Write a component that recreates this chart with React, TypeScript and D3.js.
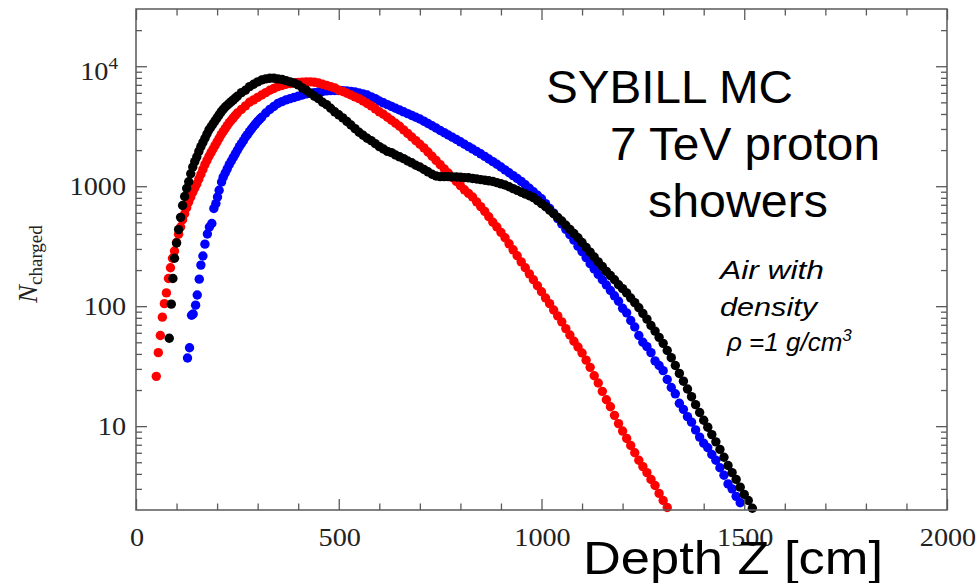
import React, { useEffect, useRef } from 'react';
import * as d3 from 'd3';

// depth Z [cm], N charged
const seriesBlue: [number, number][] = [
  [127, 37], [132, 45], [137, 84], [141, 86], [147, 102], [151, 124], [156, 168], [160, 220], [165, 262], [170, 329],
  [176, 400], [181, 457], [187, 489], [192, 652], [197, 716], [201, 813], [205, 925], [211, 1084], [215, 1189], [220, 1288],
  [225, 1396], [230, 1514], [235, 1622], [240, 1738], [245, 1862], [250, 1995], [255, 2138], [260, 2265], [265, 2399], [270, 2570],
  [275, 2692], [280, 2851], [285, 3006], [290, 3162], [295, 3311], [300, 3467], [305, 3614], [310, 3758], [320, 4074], [330, 4365],
  [340, 4624], [350, 4898], [360, 5070], [370, 5248], [380, 5370], [390, 5495], [400, 5623], [410, 5754], [420, 5888], [430, 5957],
  [440, 6026], [450, 6095], [460, 6166], [470, 6237], [480, 6266], [490, 6281], [500, 6281], [510, 6266], [520, 6237], [530, 6166],
  [540, 6095], [550, 5984], [560, 5888], [570, 5754], [580, 5559], [590, 5370], [600, 5129], [610, 4955], [620, 4786], [630, 4624],
  [640, 4467], [650, 4315], [660, 4169], [670, 4027], [680, 3890], [690, 3758], [700, 3631], [710, 3483], [720, 3334], [730, 3192],
  [740, 3055], [750, 2917], [760, 2793], [770, 2673], [780, 2559], [790, 2449], [800, 2344], [810, 2239], [820, 2138], [830, 2042],
  [840, 1950], [850, 1862], [860, 1774], [870, 1687], [880, 1603], [890, 1524], [900, 1445], [910, 1368], [920, 1294], [930, 1225],
  [940, 1159], [950, 1096], [960, 1028], [970, 962], [980, 899], [990, 841], [1000, 785], [1010, 716], [1020, 653], [1030, 596],
  [1040, 537], [1050, 484], [1060, 437], [1070, 394], [1080, 355], [1090, 316], [1100, 285], [1110, 254], [1120, 226], [1130, 204],
  [1140, 184], [1150, 166], [1160, 150], [1170, 135], [1180, 122], [1190, 110], [1200, 96], [1210, 88], [1220, 76], [1230, 67],
  [1240, 57], [1250, 50], [1260, 46], [1270, 41], [1280, 35], [1290, 32], [1300, 29], [1310, 24.5], [1320, 21], [1330, 18.6],
  [1340, 15.5], [1350, 13.8], [1360, 12], [1370, 10.8], [1380, 9.3], [1390, 8.1], [1400, 7.2], [1410, 6.6], [1420, 5.8], [1430, 5.2],
  [1440, 4.5], [1450, 3.9], [1460, 3.3], [1470, 3.0], [1480, 2.6], [1490, 2.3],
];

const seriesRed: [number, number][] = [
  [50, 26], [55, 41], [60, 57], [65, 81], [70, 105], [75, 129], [80, 170], [85, 209], [90, 251], [95, 288],
  [100, 339], [105, 398], [110, 457], [115, 525], [120, 589], [125, 661], [130, 741], [135, 813], [140, 891], [145, 966],
  [150, 1047], [155, 1148], [160, 1259], [165, 1380], [170, 1514], [175, 1641], [180, 1778], [185, 1905], [190, 2042], [195, 2188],
  [200, 2344], [205, 2512], [210, 2692], [215, 2851], [220, 3020], [225, 3199], [230, 3388], [235, 3548], [240, 3715], [245, 3890],
  [250, 4074], [260, 4365], [270, 4677], [280, 5012], [290, 5248], [300, 5495], [310, 5754], [320, 6026], [330, 6310], [340, 6531],
  [350, 6761], [360, 6918], [370, 7079], [380, 7161], [390, 7244], [400, 7328], [410, 7379], [420, 7413], [430, 7413], [440, 7362],
  [450, 7244], [460, 7079], [470, 6918], [480, 6761], [490, 6607], [500, 6310], [510, 6166], [520, 5957], [530, 5754], [540, 5559],
  [550, 5370], [560, 5129], [570, 4898], [580, 4677], [590, 4416], [600, 4169], [610, 3981], [620, 3758], [630, 3548], [640, 3350],
  [650, 3162], [660, 2951], [670, 2754], [680, 2570], [690, 2399], [700, 2239], [710, 2089], [720, 1928], [730, 1778], [740, 1641],
  [750, 1514], [760, 1396], [770, 1288], [780, 1183], [790, 1096], [800, 1012], [810, 933], [820, 871], [830, 813], [840, 741],
  [850, 676], [860, 617], [870, 556], [880, 501], [890, 457], [900, 412], [910, 372], [920, 331], [930, 295], [940, 263],
  [950, 234], [960, 209], [970, 186], [980, 166], [990, 148], [1000, 132], [1010, 117], [1020, 105], [1030, 93], [1040, 83],
  [1050, 74], [1060, 65], [1070, 57.5], [1080, 51], [1090, 45.7], [1100, 40.7], [1110, 35.5], [1120, 30.9], [1130, 26.3], [1140, 22.9],
  [1150, 19.5], [1160, 16.6], [1170, 14.5], [1180, 12.3], [1190, 10.5], [1200, 9.1], [1210, 7.9], [1220, 6.9], [1230, 6.0], [1240, 5.2],
  [1250, 4.6], [1260, 4.1], [1270, 3.6], [1280, 3.2], [1290, 2.75], [1300, 2.4], [1310, 2.1],
];

const seriesBlack: [number, number][] = [
  [82, 54], [87, 104], [91, 170], [95, 251], [100, 336], [105, 435], [110, 550], [115, 690], [120, 820], [125, 960],
  [130, 1090], [135, 1270], [140, 1445], [145, 1603], [150, 1758], [155, 1950], [160, 2138], [165, 2317], [170, 2512], [175, 2723],
  [180, 2951], [185, 3126], [190, 3311], [195, 3508], [200, 3715], [205, 3936], [210, 4169], [215, 4365], [220, 4571], [225, 4732],
  [230, 4898], [235, 5070], [240, 5248], [245, 5433], [250, 5623], [260, 6026], [270, 6310], [280, 6761], [290, 7079], [300, 7413],
  [310, 7674], [320, 7852], [330, 7943], [340, 7943], [350, 7852], [360, 7762], [370, 7586], [380, 7413], [390, 7244], [400, 6998],
  [410, 6607], [420, 6310], [430, 5957], [440, 5623], [450, 5370], [460, 5012], [470, 4786], [480, 4467], [490, 4169], [500, 3936],
  [510, 3715], [520, 3467], [530, 3236], [540, 3020], [550, 2818], [560, 2661], [570, 2512], [580, 2399], [590, 2265], [600, 2138],
  [610, 2042], [620, 1950], [630, 1905], [640, 1820], [650, 1758], [660, 1698], [670, 1622], [680, 1567], [690, 1496], [700, 1445],
  [710, 1380], [720, 1318], [730, 1259], [740, 1216], [750, 1202], [760, 1202], [770, 1202], [780, 1197], [790, 1194], [800, 1189],
  [810, 1180], [820, 1175], [830, 1161], [840, 1148], [850, 1135], [860, 1122], [870, 1109], [880, 1096], [890, 1072], [900, 1047],
  [910, 1023], [920, 989], [930, 955], [940, 923], [950, 891], [960, 861], [970, 832], [980, 804], [990, 759], [1000, 716],
  [1010, 676], [1020, 631], [1030, 589], [1040, 550], [1050, 513], [1060, 473], [1070, 437], [1080, 403], [1090, 372], [1100, 339],
  [1110, 309], [1120, 282], [1130, 257], [1140, 234], [1150, 214], [1160, 195], [1170, 180], [1180, 166], [1190, 151], [1200, 140],
  [1210, 129], [1220, 117], [1230, 107], [1240, 97], [1250, 87], [1260, 78], [1270, 69], [1280, 62], [1290, 55], [1300, 49],
  [1310, 42.7], [1320, 37.2], [1330, 32], [1340, 27.5], [1350, 23.7], [1360, 20.4], [1370, 17.6], [1380, 15.1], [1390, 13], [1400, 11.2],
  [1410, 9.8], [1420, 8.5], [1430, 7.4], [1440, 6.4], [1450, 5.5], [1460, 4.7], [1470, 4.1], [1480, 3.6], [1490, 3.1], [1500, 2.7],
  [1510, 2.4], [1520, 2.07],
];

const xTicks = [0, 500, 1000, 1500, 2000];
const xMinorTicks = [100, 200, 300, 400, 600, 700, 800, 900, 1100, 1200, 1300, 1400, 1600, 1700, 1800, 1900];
const yTicks = [10, 100, 1000, 10000];
const yMinorTicks = [3, 4, 5, 6, 7, 8, 9, 20, 30, 40, 50, 60, 70, 80, 90, 200, 300, 400, 500, 600, 700, 800, 900,
  2000, 3000, 4000, 5000, 6000, 7000, 8000, 9000, 20000];

const series = [
  { name: 'blue', color: '#0000ff', data: seriesBlue },
  { name: 'red', color: '#ff0000', data: seriesRed },
  { name: 'black', color: '#000000', data: seriesBlack },
];

const FRAME = '#5a5a5a';
const SERIF = '"Liberation Serif", "Times New Roman", serif';
const SANS = '"Liberation Sans", Arial, sans-serif';

export default function App() {
  const axesRef = useRef<SVGGElement>(null);
  const x = d3.scaleLinear().domain([0, 2000]).range([136, 947]);
  const y = d3.scaleLog().domain([2, 30000]).range([510, 9]);
  const [x0, x1] = x.range();
  const [yb, yt] = y.range();

  useEffect(() => {
    const g = d3.select(axesRef.current);
    g.selectAll('*').remove();
    const add = (axis: any, tr: string) =>
      g.append('g')
        .attr('transform', tr)
        .call(axis)
        .call((s: any) => s.select('.domain').remove())
        .call((s: any) => s.selectAll('text').remove())
        .call((s: any) => s.selectAll('line').attr('stroke', FRAME).attr('stroke-width', 1.3));

    add(d3.axisLeft(y).tickValues(yTicks).tickSize(-11), `translate(${x0},0)`);
    add(d3.axisLeft(y).tickValues(yMinorTicks).tickSize(-6), `translate(${x0},0)`);
    add(d3.axisRight(y).tickValues(yTicks).tickSize(-11), `translate(${x1},0)`);
    add(d3.axisRight(y).tickValues(yMinorTicks).tickSize(-6), `translate(${x1},0)`);
    add(d3.axisBottom(x).tickValues(xTicks).tickSize(-11), `translate(0,${yb})`);
    add(d3.axisBottom(x).tickValues(xMinorTicks).tickSize(-6.5), `translate(0,${yb})`);
    add(d3.axisTop(x).tickValues(xTicks).tickSize(-11), `translate(0,${yt})`);
    add(d3.axisTop(x).tickValues(xMinorTicks).tickSize(-6.5), `translate(0,${yt})`);
  }, []);

  return (
    <svg width={978} height={583} style={{ position: 'absolute', left: 0, top: 0, background: '#fff' }}>
      <rect x={0} y={0} width={978} height={583} fill="#fff" />

      {series.map(s => (
        <g key={s.name} fill={s.color}>
          {s.data.map(([z, n], i) => (
            <circle key={i} cx={x(z)} cy={y(n)} r={4.7} />
          ))}
        </g>
      ))}

      <rect x={x0} y={yt} width={x1 - x0} height={yb - yt} fill="none" stroke={FRAME} strokeWidth={1.5} />
      <g ref={axesRef} />

      {/* tick labels */}
      <g fontFamily={SERIF} fontSize={25} fill="#222">
        {yTicks.map(v => v === 10000 ? (
          <g key={v} transform={`translate(118,${y(v) + 14}) scale(1.13,1)`}>
            <text textAnchor="end">10<tspan fontSize={17} dy={-11}>4</tspan></text>
          </g>
        ) : (
          <g key={v} transform={`translate(126,${y(v) + 8.5}) scale(1.13,1)`}>
            <text textAnchor="end">{v}</text>
          </g>
        ))}
        {xTicks.map(v => (
          <g key={v} transform={`translate(${x(v) + 1},546) scale(1.13,1)`}>
            <text textAnchor="middle">{v}</text>
          </g>
        ))}
      </g>

      {/* y axis title */}
      <text transform="translate(37,303) rotate(-90)" fontFamily={SERIF} fill="#222">
        <tspan fontStyle="italic" fontSize={27}>N</tspan>
        <tspan fontSize={19} dy={4.5}>charged</tspan>
      </text>

      {/* annotations */}
      <g fontFamily={SANS} fill="#000">
        <text x={546} y={103} fontSize={46} textLength={247} lengthAdjust="spacingAndGlyphs">SYBILL MC</text>
        <text x={610} y={160} fontSize={46} textLength={270} lengthAdjust="spacingAndGlyphs">7 TeV proton</text>
        <text x={648} y={217} fontSize={46} textLength={180} lengthAdjust="spacingAndGlyphs">showers</text>
        <text x={720} y={279} fontSize={26} fontStyle="italic" textLength={104} lengthAdjust="spacingAndGlyphs">Air with</text>
        <text x={720} y={316} fontSize={26} fontStyle="italic" textLength={97} lengthAdjust="spacingAndGlyphs">density</text>
        <text x={727} y={351} fontSize={26} fontStyle="italic">
          ρ =1 g/cm<tspan fontSize={17} dy={-10}>3</tspan>
        </text>
        <text x={583} y={574} fontSize={47} textLength={300} lengthAdjust="spacingAndGlyphs">Depth Z [cm]</text>
      </g>
    </svg>
  );
}
